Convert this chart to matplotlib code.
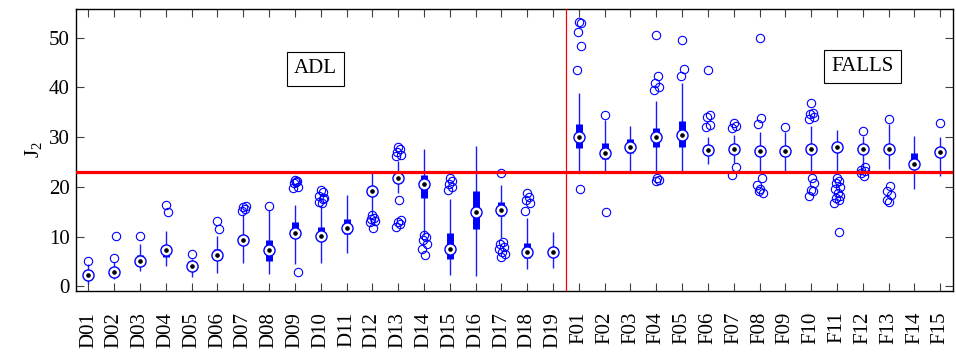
import numpy as np
import matplotlib
matplotlib.use("Agg")
from matplotlib import pyplot as plt

plt.rcParams["font.family"] = ["Liberation Serif", "DejaVu Serif"]
plt.rcParams["mathtext.default"] = "regular"

# activity labels: 19 daily activities + 15 falls
labels = ["D%02d" % i for i in range(1, 20)] + ["F%02d" % i for i in range(1, 16)]

# compact boxplot stats
med = [2.3, 2.9, 5.0, 7.3, 4.0, 6.4, 9.4, 7.4, 10.7, 10.2, 11.7, 19.1, 21.8, 20.6, 7.5, 14.9, 15.4, 7.0, 7.0,
       30.0, 26.9, 28.1, 30.0, 30.5, 27.4, 27.7, 27.3, 27.2, 27.6, 28.0, 27.6, 27.6, 24.6, 27.1]
q1 = [1.6, 2.3, 4.0, 6.0, 3.3, 5.3, 8.5, 5.0, 9.7, 9.3, 10.6, 18.5, 21.0, 17.8, 5.5, 11.5, 14.1, 5.7, 6.3,
      27.8, 25.6, 26.8, 28.1, 28.1, 26.8, 27.0, 26.6, 26.6, 27.0, 27.2, 27.0, 27.0, 24.2, 26.2]
q3 = [3.0, 3.6, 6.3, 8.2, 4.8, 7.5, 10.3, 9.4, 12.9, 11.9, 13.5, 19.8, 22.5, 22.4, 10.7, 19.1, 16.9, 8.7, 7.8,
      32.6, 28.8, 29.6, 31.9, 33.3, 28.0, 28.4, 28.2, 28.0, 28.3, 28.5, 28.2, 28.5, 26.9, 27.8]
wlo = [0.5, 1.5, 3.0, 4.0, 1.9, 2.7, 4.7, 2.5, 4.4, 4.7, 6.8, 14.4, 18.7, 10.4, 2.3, 2.0, 9.7, 3.4, 3.7,
       23.1, 23.1, 23.1, 23.1, 23.1, 24.6, 24.8, 23.1, 23.1, 22.9, 23.1, 23.8, 23.6, 19.6, 22.1]
whi = [4.4, 4.8, 8.6, 11.2, 5.5, 10.2, 14.5, 15.3, 16.4, 16.4, 18.4, 23.1, 25.1, 27.6, 17.5, 28.3, 20.4, 13.7, 11.0,
       38.8, 33.5, 32.3, 37.3, 40.8, 30.1, 30.5, 31.1, 31.1, 32.3, 31.5, 30.3, 32.6, 30.3, 30.1]
outliers = [
    [5.0],
    [5.8, 10.2],
    [10.2],
    [16.3, 15.0],
    [6.6],
    [13.1, 11.5],
    [15.9, 15.5, 15.2, 16.1],
    [16.1],
    [21.4, 21.2, 20.8, 20.0, 19.8, 21.0, 2.95],
    [19.4, 18.9, 18.2, 17.5, 17.0, 16.8, 17.8],
    [],
    [14.4, 13.8, 13.5, 13.2, 13.0, 11.7],
    [28.1, 27.6, 27.0, 26.5, 26.3, 17.4, 13.4, 13.0, 12.5, 11.9],
    [10.4, 10.0, 9.4, 8.5, 7.6, 6.4],
    [21.8, 21.2, 20.6, 20.0, 19.3],
    [],
    [22.8, 9.0, 8.6, 8.0, 7.5, 7.0, 6.6, 6.0],
    [18.7, 18.0, 17.4, 16.8, 15.1],
    [],
    [53.2, 53.0, 51.2, 48.3, 43.5, 19.6],
    [34.4, 15.0],
    [],
    [50.6, 42.2, 40.8, 40.0, 39.4, 21.8, 21.4, 21.2],
    [49.6, 43.7, 42.2],
    [43.5, 34.5, 34.0, 32.5, 32.0],
    [32.9, 32.3, 31.8, 24.0, 22.4],
    [49.9, 33.8, 32.7, 21.8, 20.4, 19.6, 18.8, 19.2],
    [32.0],
    [36.8, 34.8, 34.6, 34.0, 33.6, 21.8, 20.8, 19.4, 19.2, 18.1],
    [21.7, 21.2, 20.8, 20.0, 19.5, 18.8, 18.2, 17.7, 17.3, 16.7, 11.0],
    [31.2, 23.9, 23.4, 23.1, 22.8, 22.2],
    [33.7, 20.1, 19.1, 18.4, 17.4, 16.9],
    [],
    [32.8],
]

threshold = 22.9
jitter = [0.0, 0.07, -0.05, 0.1, -0.08, 0.03, 0.12, -0.02, 0.06, -0.1, 0.09]

fig, ax = plt.subplots(figsize=(9.56, 3.56), dpi=100)
fig.subplots_adjust(left=0.079, right=0.997, bottom=0.183, top=0.974)

x = np.arange(1, len(labels) + 1)
ax.vlines(x, wlo, whi, color="#1a1aff", linewidth=1.0, zorder=2)
ax.vlines(x, q1, q3, color="#0000ff", linewidth=5.0, capstyle="butt", zorder=3)
for i, vals in enumerate(outliers):
    xs = [x[i] + jitter[k % len(jitter)] for k in range(len(vals))]
    ax.plot(xs, vals, linestyle="none", marker="o", markersize=6,
            markerfacecolor="none", markeredgecolor="#0000ff", markeredgewidth=0.8, zorder=3)
ax.plot(x, med, linestyle="none", marker="o", markersize=8, markerfacecolor="white",
        markeredgecolor="#0000ff", markeredgewidth=1.0, zorder=4)
ax.plot(x, med, linestyle="none", marker="o", markersize=2.3, color="black", zorder=5)

ax.axhline(threshold, color="red", linewidth=2.3, zorder=6)
ax.axvline(19.5, color="red", linewidth=0.9, zorder=6)

box = dict(boxstyle="square,pad=0.35", facecolor="white", edgecolor="black", linewidth=0.8)
ax.text(9.8, 43.7, "ADL", fontsize=15, ha="center", va="center", bbox=box, zorder=7)
ax.text(31.0, 44.2, "FALLS", fontsize=15, ha="center", va="center", bbox=box, zorder=7)

ax.set_xlim(0.5, 34.5)
ax.set_ylim(-0.9, 55.7)
ax.set_xticks(x)
ax.set_xticklabels(labels, rotation=90, fontsize=15)
ax.set_yticks([0, 10, 20, 30, 40, 50])
ax.tick_params(axis="y", labelsize=15, direction="in", length=6, width=0.8, right=True, pad=4,
               color="#404040")
ax.tick_params(axis="x", direction="in", length=6, width=0.8, top=True, pad=15, color="#404040")
ax.set_ylabel(r"$\mathregular{J_2}$", fontsize=15, labelpad=4)
for s in ax.spines.values():
    s.set_linewidth(1.0)

fig.savefig("out.png", dpi=100)
